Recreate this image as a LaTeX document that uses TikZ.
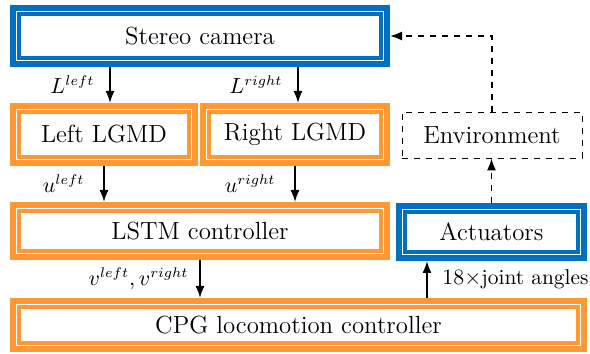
\documentclass[tikz,border=0pt]{standalone}
\usepackage{amsmath}
\usetikzlibrary{positioning, arrows.meta, calc}

\definecolor{camblue}{RGB}{0,112,192}
\definecolor{netorange}{RGB}{255,153,51}

\begin{document}
\begin{tikzpicture}[
    font=\fontsize{10.7}{13}\selectfont,
    >={Latex[length=6pt, width=4.5pt]},
    dblbox/.style={rectangle, draw=#1, line width=3pt, fill=white, inner sep=0pt,
        font=\fontsize{12.4}{15}\selectfont,
        path picture={\draw[#1, line width=2pt]
            ($(path picture bounding box.south west)+(3pt,3pt)$) rectangle
            ($(path picture bounding box.north east)-(3pt,3pt)$);}},
    hw/.style={dblbox=camblue},
    net/.style={dblbox=netorange},
    world/.style={rectangle, draw, dashed, minimum width=90pt, minimum height=23pt,
        font=\fontsize{12.4}{15}\selectfont},
    link/.style={->, thick},
    feedback/.style={->, thick, dashed}
]
\useasboundingbox (0,0) rectangle (295pt,177pt);

% 1. Sensing (Top)
\node[hw, minimum width=187pt, minimum height=28pt] (camera) at (100pt,159pt) {Stereo camera};

% 2. LGMD neurons and environment
\node[net, minimum width=91pt, minimum height=28.5pt] (lgmdL) at (52pt,109.75pt) {Left LGMD};
\node[net, minimum width=92pt, minimum height=28.5pt] (lgmdR) at (147.5pt,109.75pt) {Right LGMD};
\node[world] (environ) at (246pt,109.5pt) {Environment};

% 3. Controller and actuators
\node[net, minimum width=187pt, minimum height=26pt] (lstm) at (100pt,61.5pt) {LSTM controller};
\node[hw, minimum width=92.5pt, minimum height=26pt] (act) at (245.75pt,61pt) {Actuators};

% 4. CPG (Bottom)
\node[net, minimum width=285.5pt, minimum height=24pt] (cpg) at (149.25pt,14.5pt) {CPG locomotion controller};
\coordinate (jnt) at ([xshift=15.5pt]act.south west);

% Paths
\draw[link] ([xshift=3pt]lgmdL.north |- camera.south) -- node[left=4pt] {$L^{left}$} ([xshift=3pt]lgmdL.north);
\draw[link] ([xshift=1.5pt]lgmdR.north |- camera.south) -- node[left=4pt] {$L^{right}$} ([xshift=1.5pt]lgmdR.north);

\draw[link] (lgmdL.south) -- node[left=6pt] {$u^{left}$} (lgmdL.south |- lstm.north);
\draw[link] (lgmdR.south) -- node[left=6pt] {$u^{right}$} (lgmdR.south |- lstm.north);

\draw[link] (lstm.south) -- node[left=2pt] {$v^{left}, v^{right}$} (lstm.south |- cpg.north);
\draw[link] (cpg.north -| jnt) -- node[right=4pt] {$18\times$joint angles} (jnt);

\draw[feedback] (act.north) -- (act.north |- environ.south);
\draw[feedback] (environ.north) |- (camera.east);

\end{tikzpicture}
\end{document}
